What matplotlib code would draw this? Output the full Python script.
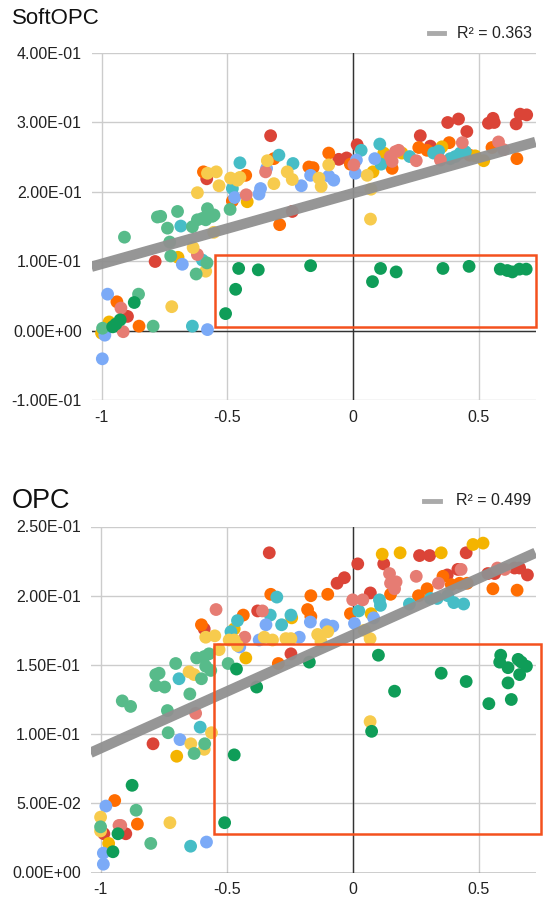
import numpy as np
import matplotlib
matplotlib.use('Agg')
from matplotlib import pyplot as plt
from matplotlib.patches import Rectangle
from matplotlib.lines import Line2D

plt.rcParams['font.family'] = ['Liberation Sans', 'DejaVu Sans']

# Colours (Google Sheets palette)
c_red = '#db4437'
c_orange = '#ff6d01'
c_yellow = '#f4b400'
c_lyellow = '#f7cb4d'
c_teal = '#46bdc6'
c_lblue = '#7baaf7'
c_salmon = '#e67c73'
c_green = '#0f9d58'
c_lgreen = '#57bb8a'

# ---------------- SoftOPC data ----------------
soft_red_x = [-0.787, -0.897, -0.582, -0.328, -0.242, -0.057, -0.026, 0.016, 0.267, 0.307,
              0.376, 0.419, 0.452, 0.538, 0.556, 0.561, 0.648, 0.664, 0.690]
soft_red_y = [0.100, 0.021, 0.219, 0.281, 0.172, 0.247, 0.249, 0.268, 0.281, 0.266,
              0.300, 0.305, 0.287, 0.299, 0.306, 0.300, 0.298, 0.312, 0.311]
soft_orange_x = [-0.939, -0.851, -0.595, -0.480, -0.427, -0.315, -0.292, -0.176, -0.159, -0.097,
                 -0.011, 0.155, 0.261, 0.294, 0.382, 0.463, 0.552, 0.651]
soft_orange_y = [0.042, 0.007, 0.229, 0.187, 0.224, 0.248, 0.153, 0.236, 0.235, 0.256,
                 0.240, 0.234, 0.264, 0.260, 0.271, 0.253, 0.264, 0.248]
soft_yellow_x = [-1.0, -0.970, -0.696, -0.421, 0.079, 0.122, 0.194, 0.353, 0.485, 0.519]
soft_yellow_y = [-0.003, 0.013, 0.106, 0.186, 0.229, 0.256, 0.256, 0.265, 0.252, 0.245]
soft_lyellow_x = [-0.721, -0.636, -0.586, -0.554, -0.619, -0.579, -0.544, -0.533, -0.487, -0.460,
                  -0.450, -0.341, -0.315, -0.262, -0.242, -0.136, -0.127, -0.097, 0.056, 0.071, 0.069]
soft_lyellow_y = [0.035, 0.120, 0.086, 0.142, 0.199, 0.227, 0.229, 0.209, 0.220, 0.217,
                  0.221, 0.245, 0.212, 0.229, 0.218, 0.220, 0.208, 0.239, 0.224, 0.204, 0.161]
soft_teal_x = [-0.685, -0.599, -0.639, -0.480, -0.450, -0.295, -0.239, 0.032, 0.106, 0.111,
               0.225, 0.320, 0.340, 0.386, 0.406, 0.426, 0.446]
soft_teal_y = [0.151, 0.102, 0.007, 0.205, 0.242, 0.253, 0.241, 0.260, 0.269, 0.240,
               0.251, 0.256, 0.259, 0.248, 0.251, 0.256, 0.258]
soft_lblue_x = [-0.976, -0.987, -0.997, -0.679, -0.579, -0.471, -0.368, -0.374, -0.344, -0.206,
                -0.169, -0.097, -0.077, 0.009, 0.013, 0.086]
soft_lblue_y = [0.053, -0.006, -0.040, 0.096, 0.002, 0.192, 0.205, 0.197, 0.234, 0.209,
                0.224, 0.223, 0.217, 0.227, 0.246, 0.248]
soft_salmon_x = [-0.923, -0.914, -0.619, -0.425, -0.348, 0.003, 0.148, 0.168, 0.181, 0.155,
                 0.251, 0.347, 0.434, 0.578, 0.598]
soft_salmon_y = [0.033, -0.001, 0.110, 0.196, 0.229, 0.239, 0.251, 0.258, 0.260, 0.244,
                 0.245, 0.246, 0.271, 0.272, 0.261]
soft_green_x = [-0.870, -0.926, -0.943, -0.956, -0.507, -0.467, -0.455, -0.377, -0.169, 0.077,
                0.109, 0.171, 0.357, 0.461, 0.585, 0.613, 0.633, 0.661, 0.688]
soft_green_y = [0.041, 0.016, 0.010, 0.006, 0.025, 0.060, 0.090, 0.088, 0.094, 0.071,
                0.090, 0.085, 0.090, 0.093, 0.089, 0.087, 0.085, 0.089, 0.089]
soft_lgreen_x = [-0.909, -0.778, -0.765, -0.698, -0.738, -0.729, -0.725, -0.639, -0.619, -0.599,
                 -0.579, -0.560, -0.553, -0.586, -0.581, -0.624, -0.489, -0.853, -0.996, -0.795]
soft_lgreen_y = [0.135, 0.164, 0.165, 0.172, 0.148, 0.128, 0.108, 0.150, 0.160, 0.162,
                 0.176, 0.165, 0.167, 0.160, 0.098, 0.082, 0.175, 0.053, 0.004, 0.007]

# ---------------- OPC data ----------------
opc_red_x = [-0.792, -0.987, -0.900, -0.589, -0.377, -0.331, -0.245, -0.062, -0.033, 0.020,
             0.070, 0.123, 0.265, 0.305, 0.375, 0.417, 0.450, 0.536, 0.563, 0.642, 0.662, 0.693]
opc_red_y = [0.093, 0.028, 0.028, 0.176, 0.189, 0.231, 0.158, 0.209, 0.213, 0.223,
             0.202, 0.223, 0.229, 0.229, 0.215, 0.219, 0.231, 0.216, 0.216, 0.220, 0.220, 0.215]
opc_orange_x = [-0.944, -0.854, -0.600, -0.434, -0.325, -0.295, -0.179, -0.166, -0.166, -0.099,
                -0.009, 0.150, 0.261, 0.295, 0.358, 0.391, 0.424, 0.454, 0.556, 0.652]
opc_orange_y = [0.052, 0.035, 0.179, 0.186, 0.201, 0.151, 0.190, 0.185, 0.200, 0.201,
                0.187, 0.201, 0.200, 0.205, 0.214, 0.208, 0.209, 0.209, 0.205, 0.204]
opc_yellow_x = [-0.968, -0.698, -0.470, -0.424, -0.242, 0.073, 0.117, 0.188, 0.351, 0.477, 0.517]
opc_yellow_y = [0.021, 0.084, 0.176, 0.155, 0.184, 0.187, 0.230, 0.231, 0.231, 0.237, 0.238]
opc_lyellow_x = [-1.0, -1.0, -0.725, -0.649, -0.629, -0.642, -0.589, -0.560, -0.583, -0.547,
                 -0.530, -0.490, -0.470, -0.457, -0.351, -0.318, -0.265, -0.245, -0.139, -0.099,
                 -0.126, 0.046, 0.069, 0.069]
opc_lyellow_y = [0.040, 0.030, 0.036, 0.145, 0.143, 0.093, 0.089, 0.101, 0.170, 0.171,
                 0.161, 0.168, 0.168, 0.164, 0.170, 0.168, 0.169, 0.169, 0.172, 0.174,
                 0.167, 0.175, 0.169, 0.109]
opc_teal_x = [-0.689, -0.605, -0.643, -0.457, -0.483, -0.327, -0.301, -0.282, -0.245, 0.024,
              0.106, 0.110, 0.225, 0.309, 0.335, 0.377, 0.401, 0.440]
opc_teal_y = [0.140, 0.105, 0.019, 0.182, 0.174, 0.186, 0.199, 0.179, 0.186, 0.189,
              0.197, 0.193, 0.194, 0.198, 0.198, 0.200, 0.195, 0.194]
opc_lblue_x = [-0.979, -0.989, -0.989, -0.685, -0.580, -0.448, -0.344, -0.371, -0.212, -0.168,
               -0.106, -0.079, 0.007, 0.083]
opc_lblue_y = [0.048, 0.014, 0.006, 0.096, 0.022, 0.163, 0.179, 0.168, 0.170, 0.181,
               0.179, 0.178, 0.180, 0.184]
opc_salmon_x = [-0.927, -0.920, -0.623, -0.542, -0.428, -0.358, 0.000, 0.040, 0.146, 0.150,
                0.172, 0.166, 0.252, 0.340, 0.430, 0.574, 0.603]
opc_salmon_y = [0.034, 0.034, 0.115, 0.190, 0.170, 0.189, 0.197, 0.197, 0.216, 0.209,
                0.210, 0.205, 0.214, 0.209, 0.219, 0.220, 0.219]
opc_green_x = [-0.875, -0.931, -0.951, -0.508, -0.470, -0.461, -0.381, -0.172, 0.075, 0.102,
               0.166, 0.351, 0.450, 0.540, 0.587, 0.583, 0.616, 0.656, 0.669, 0.689,
               0.662, 0.616, 0.629]
opc_green_y = [0.063, 0.028, 0.015, 0.036, 0.085, 0.147, 0.134, 0.152, 0.102, 0.157,
               0.131, 0.144, 0.138, 0.122, 0.157, 0.152, 0.148, 0.154, 0.152, 0.149,
               0.143, 0.137, 0.125]
opc_lgreen_x = [-0.914, -0.881, -0.781, -0.768, -0.781, -0.746, -0.702, -0.735, -0.646, -0.619,
                -0.589, -0.570, -0.583, -0.563, -0.600, -0.494, -0.732, -0.587, -0.629, -0.859,
                -1.0, -0.801]
opc_lgreen_y = [0.124, 0.120, 0.143, 0.144, 0.135, 0.134, 0.151, 0.117, 0.129, 0.155,
                0.156, 0.158, 0.149, 0.146, 0.140, 0.151, 0.101, 0.093, 0.086, 0.045,
                0.033, 0.021]

# Trendlines (end points)
trend_x = [-1.04, 0.725]
soft_trend_y = [0.0925, 0.272]
opc_trend_y = [0.0865, 0.231]

# Highlight boxes [x0, x1, y0, y1]
soft_box = [-0.550, 0.727, 0.006, 0.110]
opc_box = [-0.550, 0.745, 0.028, 0.165]

xticks = [-1, -0.5, 0, 0.5]
xlabels = ['-1', '-0.5', '0', '0.5']
soft_yticks = [-0.1, 0.0, 0.1, 0.2, 0.3, 0.4]
opc_yticks = [0.0, 0.05, 0.1, 0.15, 0.2, 0.25]

soft_series = [(soft_red_x, soft_red_y, c_red), (soft_orange_x, soft_orange_y, c_orange),
               (soft_yellow_x, soft_yellow_y, c_yellow), (soft_teal_x, soft_teal_y, c_teal),
               (soft_lblue_x, soft_lblue_y, c_lblue), (soft_salmon_x, soft_salmon_y, c_salmon),
               (soft_lyellow_x, soft_lyellow_y, c_lyellow), (soft_lgreen_x, soft_lgreen_y, c_lgreen),
               (soft_green_x, soft_green_y, c_green)]
opc_series = [(opc_red_x, opc_red_y, c_red), (opc_orange_x, opc_orange_y, c_orange),
              (opc_yellow_x, opc_yellow_y, c_yellow), (opc_teal_x, opc_teal_y, c_teal),
              (opc_lblue_x, opc_lblue_y, c_lblue), (opc_salmon_x, opc_salmon_y, c_salmon),
              (opc_lyellow_x, opc_lyellow_y, c_lyellow), (opc_lgreen_x, opc_lgreen_y, c_lgreen),
              (opc_green_x, opc_green_y, c_green)]

W, H = 543, 919
fig = plt.figure(figsize=(W / 100, H / 100), dpi=100)


def draw_panel(ax, series, yticks, trend_y, box):
    ax.set_xlim(-1.04, 0.725)
    ax.set_ylim(yticks[0], yticks[-1])
    for s in ax.spines.values():
        s.set_visible(False)
    ax.set_xticks(xticks)
    ax.set_xticklabels(xlabels)
    ax.set_yticks(yticks)
    ax.set_yticklabels(['%.2E' % v for v in yticks])
    ax.tick_params(length=0, labelsize=11.5, colors='#222222')
    ax.tick_params(axis='y', pad=7)
    ax.tick_params(axis='x', pad=7)
    ax.grid(True, color='#cccccc', lw=1.0, zorder=0)
    ax.set_axisbelow(True)
    # baselines
    ax.axhline(0, color='#333333', lw=1.0, zorder=1)
    ax.axvline(0, color='#333333', lw=1.0, zorder=1)
    # points
    for x, y, c in series:
        ax.scatter(x, y, s=85, color=c, edgecolors='none', zorder=2)
    # trendline
    ax.plot(trend_x, trend_y, color='#909090', lw=7.5, solid_capstyle='butt', zorder=3, alpha=0.95)
    # highlight box
    ax.add_patch(Rectangle((box[0], box[2]), box[1] - box[0], box[3] - box[2],
                           fill=False, edgecolor='#f4511e', lw=1.8, zorder=4, clip_on=False))


def px(x, y):
    return x / W, 1 - y / H


ax1 = fig.add_axes([91.5 / W, 1 - 400.5 / H, 444 / W, 347.5 / H])
draw_panel(ax1, soft_series, soft_yticks, soft_trend_y, soft_box)

ax2 = fig.add_axes([90.5 / W, 1 - 872.5 / H, 445 / W, 346 / H])
draw_panel(ax2, opc_series, opc_yticks, opc_trend_y, opc_box)

# Titles
fig.text(*px(12, 24), 'SoftOPC', fontsize=16, color='#111111', va='baseline')
fig.text(*px(12, 508), 'OPC', fontsize=19.5, color='#111111', va='baseline')

# Legends
fig.add_artist(Line2D([429 / W, 444 / W], [1 - 33 / H, 1 - 33 / H], color='#aaaaaa', lw=3.5))
fig.text(*px(457, 33.5), 'R² = 0.363', fontsize=11.5, color='#222222', va='center')
fig.add_artist(Line2D([424 / W, 440 / W], [1 - 501 / H, 1 - 501 / H], color='#aaaaaa', lw=3.5))
fig.text(*px(456, 500.5), 'R² = 0.499', fontsize=11.5, color='#222222', va='center')

plt.savefig('out.png', dpi=100)
